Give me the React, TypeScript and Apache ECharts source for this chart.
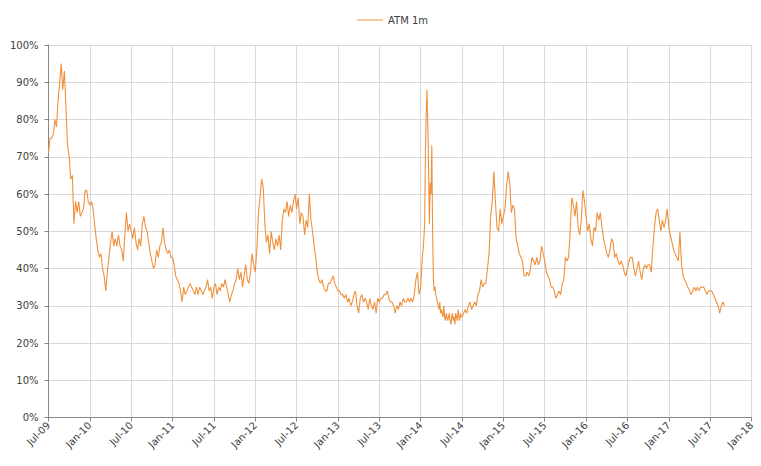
import * as echarts from 'echarts';
import { useEffect, useRef } from 'react';

const SERIES_NAME = 'ATM 1m';
const WEEKS_PER_HALF = 26;

// x tick labels, one every 6 months
const xTickLabels = [
  'Jul-09', 'Jan-10', 'Jul-10', 'Jan-11', 'Jul-11', 'Jan-12', 'Jul-12', 'Jan-13', 'Jul-13',
  'Jan-14', 'Jul-14', 'Jan-15', 'Jul-15', 'Jan-16', 'Jul-16', 'Jan-17', 'Jul-17', 'Jan-18'
];

// weekly readings (%), one array per half-year (Jan-14 half read twice a week)
const h2009b = [71, 75, 75, 76, 80, 78, 85, 90, 95, 88, 93, 83, 73, 70, 64, 65, 52, 58, 55, 58, 54, 55, 56, 61, 61, 58];
const h2010a = [57, 58, 56, 52, 48, 45, 43, 44, 40, 38, 34, 39, 43, 47, 50, 46, 48, 46, 49, 46, 45, 42, 49, 55, 50, 52];
const h2010b = [50, 48, 51, 47, 45, 48, 46, 52, 54, 51, 50, 47, 44, 42, 40, 41, 45, 43, 46, 47, 51, 47, 45, 44, 45, 43];
const h2011a = [43, 41, 38, 37, 36, 34, 31, 35, 33, 34, 35, 36, 35, 34, 33, 35, 33, 35, 34, 33, 34, 35, 37, 34, 35, 32];
const h2011b = [35, 36, 33, 35, 34, 36, 35, 37, 35, 33, 31, 33, 34, 36, 37, 40, 37, 39, 35, 38, 41, 37, 36, 39, 44, 41];
const h2012a = [39, 45, 55, 59, 64, 62, 52, 47, 49, 44, 50, 47, 45, 48, 46, 49, 45, 53, 56, 55, 58, 54, 57, 55, 58, 60];
const h2012b = [56, 59, 52, 55, 54, 49, 53, 51, 60, 53, 50, 46, 43, 39, 37, 36, 37, 35, 34, 34, 36, 36, 37, 38, 36, 35];
const h2013a = [34, 34, 33, 33, 32, 33, 31, 32, 30, 31, 33, 34, 30, 28, 32, 33, 31, 32, 31, 29, 32, 30, 29, 31, 28, 32];
const h2013b = [31, 32, 32, 33, 33, 34, 32, 31, 31, 30, 28, 30, 29, 31, 30, 32, 31, 31, 32, 31, 32, 31, 33, 37, 39, 33];
const h2014a = [
  35, 39, 43, 45, 48, 52, 72, 82, 88, 78, 66, 52, 63, 60, 73, 50, 37, 34, 35,
  33, 32, 31, 30, 29, 31, 28, 29, 28, 27, 30, 27, 26, 28, 27, 26, 27, 28, 26, 25,
  27, 28, 26, 27, 25, 28, 27, 26, 29, 27, 26, 28, 27
];
const h2014b = [27, 28, 29, 28, 30, 31, 29, 30, 31, 30, 33, 34, 37, 35, 36, 36, 40, 44, 54, 58, 66, 58, 51, 50, 56, 52];
const h2015a = [54, 56, 62, 66, 63, 55, 57, 56, 48, 46, 44, 43, 42, 38, 38, 39, 38, 40, 43, 42, 41, 43, 41, 42, 46, 44];
const h2015b = [42, 39, 38, 37, 35, 35, 34, 32, 33, 34, 33, 36, 37, 43, 42, 43, 50, 59, 57, 54, 58, 51, 49, 53, 61, 58];
const h2016a = [54, 50, 52, 48, 46, 51, 50, 55, 53, 55, 51, 48, 46, 44, 43, 45, 48, 47, 43, 44, 42, 41, 42, 41, 39, 38];
const h2016b = [40, 42, 43, 43, 40, 38, 40, 42, 39, 37, 40, 41, 40, 41, 41, 39, 46, 51, 55, 56, 53, 50, 53, 51, 53, 56];
const h2017a = [51, 49, 47, 45, 44, 43, 42, 50, 41, 38, 37, 36, 35, 34, 33, 34, 35, 34, 35, 34, 35, 35, 35, 34, 33, 34];
const h2017b = [34, 34, 33, 32, 31, 30, 28, 30, 31, 30];

const HALVES = [
  h2009b, h2010a, h2010b, h2011a, h2011b, h2012a, h2012b, h2013a, h2013b,
  h2014a, h2014b, h2015a, h2015b, h2016a, h2016b, h2017a, h2017b
];

const yTicks = [0, 10, 20, 30, 40, 50, 60, 70, 80, 90, 100];

// x is months since Jul-09
function buildPoints() {
  const pts: [number, number][] = [];
  HALVES.forEach((vals, k) => {
    const steps = Math.max(vals.length, WEEKS_PER_HALF);
    vals.forEach((v, i) => pts.push([k * 6 + (i * 6) / steps, v]));
  });
  return pts;
}

export default function App() {
  const elRef = useRef<HTMLDivElement | null>(null);

  useEffect(() => {
    document.body.style.margin = '0';
    if (!elRef.current) return;
    const chart = echarts.init(elRef.current, undefined, { renderer: 'svg' });

    const axisGrey = '#868686';
    const gridGrey = '#D9D9D9';
    const textGrey = '#404040';
    const lineColor = '#F0913C';

    chart.setOption({
      animation: false,
      textStyle: { fontFamily: 'DejaVu Sans' },
      legend: {
        data: [SERIES_NAME],
        top: 10,
        left: 352,
        icon: 'rect',
        itemWidth: 26,
        itemHeight: 1,
        textStyle: { fontSize: 10, color: textGrey, fontFamily: 'DejaVu Sans' }
      },
      grid: { left: 48.5, right: 9.5, top: 45, bottom: 48.5 },
      xAxis: {
        type: 'value',
        min: 0,
        max: (xTickLabels.length - 1) * 6,
        interval: 6,
        axisLine: { show: true, lineStyle: { color: axisGrey } },
        axisTick: { show: true, length: 4, lineStyle: { color: axisGrey } },
        axisLabel: {
          rotate: 45,
          margin: 6,
          fontSize: 10,
          color: textGrey,
          formatter: (v: number) => xTickLabels[Math.round(v / 6)] ?? ''
        },
        splitLine: { show: true, lineStyle: { color: gridGrey } }
      },
      yAxis: {
        type: 'value',
        min: yTicks[0],
        max: yTicks[yTicks.length - 1],
        interval: 10,
        axisLine: { show: true, lineStyle: { color: axisGrey } },
        axisTick: { show: true, length: 4, lineStyle: { color: axisGrey } },
        axisLabel: { fontSize: 10, margin: 10, color: textGrey, formatter: '{value}%' },
        splitLine: { show: true, lineStyle: { color: gridGrey } }
      },
      series: [
        {
          name: SERIES_NAME,
          type: 'line',
          data: buildPoints(),
          symbol: 'none',
          color: lineColor,
          lineStyle: { color: lineColor, width: 1.1 }
        }
      ]
    });

    return () => {
      chart.dispose();
    };
  }, []);

  return <div ref={elRef} style={{ width: 761, height: 466 }} />;
}
